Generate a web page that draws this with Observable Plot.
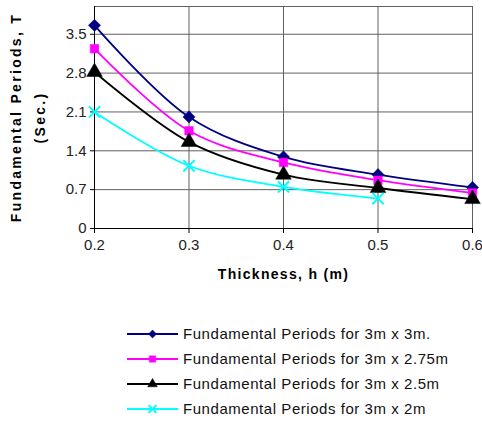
<!DOCTYPE html>
<html>
<head>
<meta charset="utf-8">
<script src="https://cdn.jsdelivr.net/npm/d3@7"></script>
<script src="https://cdn.jsdelivr.net/npm/@observablehq/plot@0.6"></script>
<style>
  html, body { margin: 0; padding: 0; background: #fff; }
  #chart { width: 482px; font-family: "Liberation Sans", Arial, sans-serif; }
  #legend { padding-top: 26px; }
  .row { display: flex; align-items: center; height: 25px; }
  .row svg { margin-left: 127px; margin-right: 5px; }
  .row span { font-size: 15px; color: #111; letter-spacing: 0.55px; }
</style>
</head>
<body>
<div id="chart"></div>
<script>
const thickness = [0.2, 0.3, 0.4, 0.5, 0.6];
const seriesNames = [
  "Fundamental Periods for 3m x 3m.",
  "Fundamental Periods for 3m x 2.75m",
  "Fundamental Periods for 3m x 2.5m",
  "Fundamental Periods for 3m x 2m"
];
const periods3x3 = [3.66, 2.01, 1.29, 0.97, 0.74];
const periods3x275 = [3.24, 1.76, 1.19, 0.87, 0.64];
const periods3x25 = [2.82, 1.56, 0.97, 0.73, 0.53];
const periods3x2 = [2.10, 1.13, 0.75, 0.54];
const yTicks = [0, 0.7, 1.4, 2.1, 2.8, 3.5];
const xTicks = [0.2, 0.3, 0.4, 0.5, 0.6];
const colors = ["#000080", "#FF00FF", "#000000", "#00FFFF"];
const symbols = ["diamond2", "square", "triangle", "times"];
const radii = [5.5, 4.8, 5.8, 5.2];

const allValues = [periods3x3, periods3x275, periods3x25, periods3x2];
const series = allValues.map((vals, i) =>
  vals.map((v, j) => ({ h: thickness[j], T: v, name: seriesNames[i] }))
);

const marks = [
  Plot.gridX(xTicks, { stroke: "#606060", strokeOpacity: 1 }),
  Plot.gridY(yTicks, { stroke: "#606060", strokeOpacity: 1 }),
  Plot.ruleY([4], { stroke: "#606060" }),
  Plot.ruleX([0.2], { stroke: "#000" }),
  Plot.ruleY([0], { stroke: "#000" }),
  Plot.axisX(xTicks, { tickSize: 5, tickPadding: 6, tickFormat: d => d.toFixed(1), label: null, fill: "#222", fontSize: 15 }),
  Plot.axisY(yTicks, { tickSize: 4, tickPadding: 4, tickFormat: d => d === 0 ? "0" : d.toFixed(1), label: null, fill: "#222", fontSize: 15 })
];
series.forEach((s, i) => {
  marks.push(Plot.line(s, { x: "h", y: "T", stroke: colors[i], strokeWidth: 1.8, curve: "catmull-rom" }));
});
series.forEach((s, i) => {
  const isStroke = symbols[i] === "times";
  marks.push(Plot.dot(s, {
    x: "h", y: "T", symbol: () => symbols[i], r: radii[i],
    fill: isStroke ? "none" : colors[i],
    stroke: colors[i], strokeWidth: isStroke ? 2 : 0.5
  }));
});
marks.push(Plot.text(["Fundamental Periods, T"], { frameAnchor: "left", textAnchor: "middle", dx: -78, rotate: -90, fontWeight: "bold", fontSize: 14, fill: "#000" }));
marks.push(Plot.text(["(Sec.)"], { frameAnchor: "left", textAnchor: "middle", dx: -54, rotate: -90, fontWeight: "bold", fontSize: 14, fill: "#000" }));
marks.push(Plot.text(["Thickness, h (m)"], { frameAnchor: "bottom", textAnchor: "middle", dy: 50, fontWeight: "bold", fontSize: 14, fill: "#000" }));

const svg = Plot.plot({
  width: 482,
  height: 295,
  marginLeft: 94,
  marginRight: 10,
  marginTop: 6,
  marginBottom: 67,
  style: { fontFamily: "Liberation Sans, Arial, sans-serif", fontSize: "15px", background: "#fff", overflow: "visible" },
  x: { domain: [0.2, 0.6] },
  y: { domain: [0, 4] },
  symbol: { type: "identity" },
  marks
});
d3.select(svg).selectAll("text").filter(function () {
  const t = this.textContent;
  return t.includes("Fundamental") || t.includes("Sec.");
}).attr("letter-spacing", "2.3px");
d3.select(svg).selectAll("text").filter(function () {
  return this.textContent.includes("Thickness");
}).attr("letter-spacing", "1.3px");

const chart = document.getElementById("chart");
chart.appendChild(svg);

const legend = document.createElement("div");
legend.id = "legend";
seriesNames.forEach((name, i) => {
  const row = document.createElement("div");
  row.className = "row";
  const sw = d3.create("svg").attr("width", 51).attr("height", 14);
  sw.append("line").attr("x1", 0).attr("x2", 51).attr("y1", 7).attr("y2", 7)
    .attr("stroke", colors[i]).attr("stroke-width", 2);
  const sym = { diamond2: d3.symbolDiamond2, square: d3.symbolSquare, triangle: d3.symbolTriangle, times: d3.symbolTimes }[symbols[i]];
  const isStroke = symbols[i] === "times";
  sw.append("path").attr("transform", "translate(25.5,7)")
    .attr("d", d3.symbol(sym, Math.PI * 3.6 * 3.6)())
    .attr("fill", isStroke ? "none" : colors[i])
    .attr("stroke", colors[i]).attr("stroke-width", isStroke ? 2 : 0.5);
  row.appendChild(sw.node());
  const label = document.createElement("span");
  label.textContent = name;
  row.appendChild(label);
  legend.appendChild(row);
});
chart.appendChild(legend);
</script>
</body>
</html>
